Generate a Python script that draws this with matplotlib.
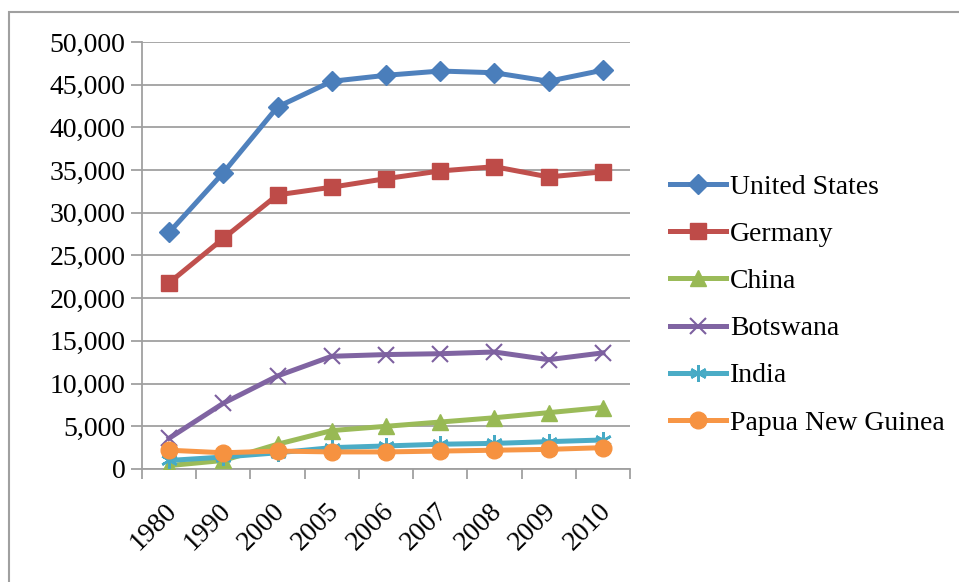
import matplotlib.pyplot as plt
from matplotlib.patches import Rectangle
from matplotlib.ticker import FuncFormatter
from matplotlib.transforms import ScaledTranslation

years = ["1980", "1990", "2000", "2005", "2006", "2007", "2008", "2009", "2010"]
united_states = [27700, 34700, 42400, 45400, 46100, 46600, 46400, 45400, 46700]
germany = [21800, 27000, 32100, 33000, 34000, 34900, 35400, 34200, 34800]
china = [400, 1000, 2900, 4500, 5000, 5500, 6000, 6600, 7200]
botswana = [3600, 7700, 10900, 13200, 13400, 13500, 13700, 12800, 13600]
india = [1000, 1400, 1900, 2500, 2700, 2900, 3000, 3200, 3400]
papua = [2200, 1900, 2100, 2000, 2000, 2100, 2200, 2300, 2500]

plt.rcParams['font.family'] = ['Liberation Serif', 'DejaVu Serif']

fig = plt.figure(figsize=(9.59, 5.82), dpi=100)
ax = fig.add_axes([142 / 959, 1 - 469 / 582, 488 / 959, 427 / 582])

x = list(range(len(years)))
lw = 3.6
ax.plot(x, united_states, color='#4F81BD', lw=lw, marker='D', ms=10.5, mfc='#4A7EBB', mec='#4A7EBB', label='United States', zorder=3)
ax.plot(x, germany, color='#C0504D', lw=lw, marker='s', ms=11, mfc='#BE4B48', mec='#BE4B48', label='Germany', zorder=3)
ax.plot(x, china, color='#9BBB59', lw=lw, marker='^', ms=12, mfc='#98B954', mec='#98B954', label='China', zorder=3)
ax.plot(x, botswana, color='#8064A2', lw=lw, marker='x', ms=11, mew=1.5, mec='#7D60A0', label='Botswana', zorder=3)
ax.plot(x, india, color='#4BACC6', lw=lw, marker=(6, 2, 0), ms=12, mew=1.8, mec='#46AAC5', label='India', zorder=3)
ax.plot(x, papua, color='#F79646', lw=lw, marker='o', ms=12, mfc='#F69240', mec='#F69240', label='Papua New Guinea', zorder=3)

ax.set_xlim(-0.5, len(years) - 0.5)
ax.set_ylim(0, 50000)
ax.set_yticks(range(0, 50001, 5000))
ax.yaxis.set_major_formatter(FuncFormatter(lambda v, p: f"{int(v):,}"))
ax.yaxis.grid(True, color='#a0a0a0', lw=1.3)
ax.set_axisbelow(True)

ax.set_xticks(x)
ax.set_xticklabels(years, rotation=45, ha='right', va='top', rotation_mode='anchor')
ax.set_xticks([i - 0.5 for i in range(len(years) + 1)], minor=True)
ax.tick_params(axis='x', which='major', length=0, labelsize=20, pad=21)
ax.tick_params(axis='x', which='minor', length=7, color='#a0a0a0', width=1.3, direction='out')
ax.tick_params(axis='y', length=8, color='#a0a0a0', width=1.3, labelsize=20, pad=4)
shift = ScaledTranslation(-5 / 100, 0, fig.dpi_scale_trans)
for lbl in ax.get_xticklabels():
    lbl.set_transform(lbl.get_transform() + shift)

for s in ['top', 'right']:
    ax.spines[s].set_visible(False)
for s in ['left', 'bottom']:
    ax.spines[s].set_color('#a0a0a0')
    ax.spines[s].set_linewidth(1.3)

fig.legend(loc='center left', bbox_to_anchor=(645 / 959, 1 - 305 / 582), frameon=False,
           fontsize=20, handlelength=2.0, handletextpad=0.15, labelspacing=0.78)

fig.patches.append(Rectangle((9 / 959, -0.1), 2, 1 - 12 / 582 + 0.1, transform=fig.transFigure,
                             fill=False, edgecolor='#a0a0a0', lw=1.5))

fig.savefig('out.png', dpi=100)
